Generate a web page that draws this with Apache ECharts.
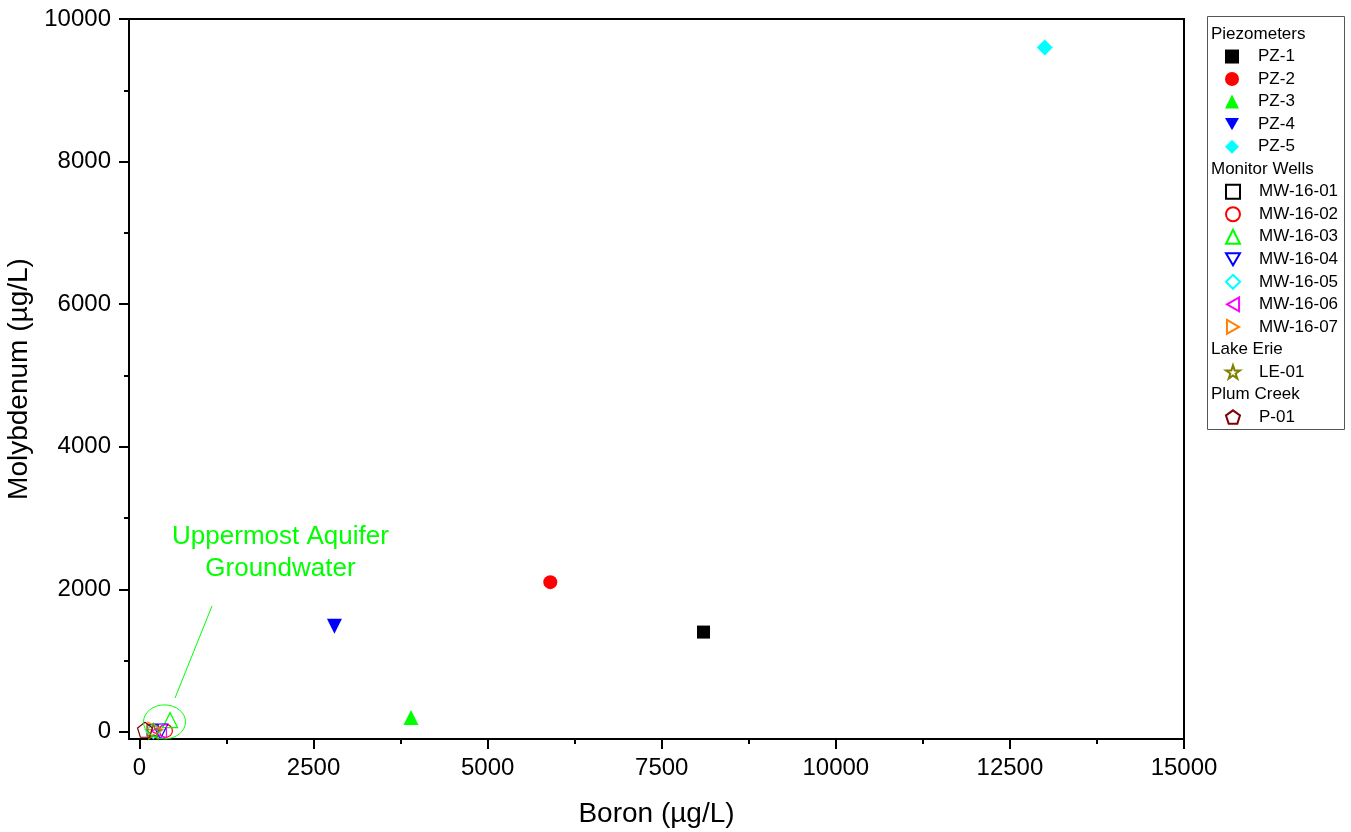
<!DOCTYPE html>
<html>
<head>
<meta charset="utf-8">
<script src="https://cdn.jsdelivr.net/npm/echarts@6/dist/echarts.min.js"></script>
<style>html,body{margin:0;padding:0;background:#fff}#c{width:1351px;height:832px}</style>
</head>
<body>
<div id="c"></div>
<script>
// ---- data ----
const xTicks = [0, 2500, 5000, 7500, 10000, 12500, 15000];
const xMinorTicks = [1250, 3750, 6250, 8750, 11250, 13750];
const yTicks = [0, 2000, 4000, 6000, 8000, 10000];
const yMinorTicks = [1000, 3000, 5000, 7000, 9000];

const piezoNames = ['PZ-1', 'PZ-2', 'PZ-3', 'PZ-4', 'PZ-5'];
const piezoBoron = [8100, 5900, 3900, 2800, 13000];
const piezoMoly = [1400, 2100, 200, 1480, 9600];

const wellNames = ['MW-16-01', 'MW-16-02', 'MW-16-03', 'MW-16-04', 'MW-16-05', 'MW-16-06', 'MW-16-07'];
const wellBoron = [190, 380, 440, 300, 200, 280, 230];
const wellMoly = [20, 15, 165, 5, 10, 10, 30];

const lakeNames = ['LE-01'];
const lakeBoron = [200];
const lakeMoly = [5];

const creekNames = ['P-01'];
const creekBoron = [80];
const creekMoly = [30];

const groupHeaders = ['Piezometers', 'Monitor Wells', 'Lake Erie', 'Plum Creek'];
const annotationText = 'Uppermost Aquifer\nGroundwater';

// ---- styles ----
const FONT = '"Liberation Sans", Arial, sans-serif';
const SYM = {
  down: 'path://M0,0 L2,0 L1,1.732 Z',
  left: 'path://M0,1 L1.732,0 L1.732,2 Z',
  right: 'path://M0,0 L1.732,1 L0,2 Z',
  star: 'path://M1,0 L1.225,0.691 L1.951,0.691 L1.363,1.118 L1.588,1.809 L1,1.382 L0.412,1.809 L0.637,1.118 L0.049,0.691 L0.775,0.691 Z',
  pent: 'path://M1,0 L1.951,0.691 L1.588,1.809 L0.412,1.809 L0.049,0.691 Z'
};
const piezoStyle = [
  {symbol: 'rect', color: '#000000', size: 13},
  {symbol: 'circle', color: '#ff0000', size: 14},
  {symbol: 'triangle', color: '#00ff00', size: 15},
  {symbol: SYM.down, color: '#0000ff', size: 15},
  {symbol: 'diamond', color: '#00ffff', size: 16}
];
const wellStyle = [
  {symbol: 'rect', color: '#000000', size: 11},
  {symbol: 'circle', color: '#ff0000', size: 13},
  {symbol: 'triangle', color: '#00ff00', size: 15},
  {symbol: SYM.down, color: '#0000ff', size: 15},
  {symbol: 'diamond', color: '#00ffff', size: 15},
  {symbol: SYM.left, color: '#ff00ff', size: 15},
  {symbol: SYM.right, color: '#ff8000', size: 15}
];
const lakeStyle = [{symbol: SYM.star, color: '#808000', size: 15}];
const creekStyle = [{symbol: SYM.pent, color: '#800000', size: 15}];

function makeSeries(names, xs, ys, styles, filled) {
  return names.map((n, i) => ({
    name: n,
    type: 'scatter',
    xAxisIndex: 0, yAxisIndex: 0,
    symbol: styles[i].symbol,
    symbolSize: styles[i].size,
    itemStyle: filled
      ? {color: styles[i].color, borderWidth: 0, opacity: 1}
      : {color: 'rgba(255,255,255,0)', borderColor: styles[i].color, borderWidth: 1.2, opacity: 1},
    emphasis: {disabled: true},
    data: [[xs[i], ys[i]]]
  }));
}

const series = [].concat(
  makeSeries(piezoNames, piezoBoron, piezoMoly, piezoStyle, true),
  makeSeries(wellNames, wellBoron, wellMoly, wellStyle, false),
  makeSeries(lakeNames, lakeBoron, lakeMoly, lakeStyle, false),
  makeSeries(creekNames, creekBoron, creekMoly, creekStyle, false)
);

const ROW = 22.53, ROW0 = 34;
function legendAt(names, firstRow) {
  return {
    data: names,
    orient: 'vertical',
    left: 1225,
    top: ROW0 + ROW * firstRow - ROW / 2,
    padding: 0,
    itemGap: 0,
    itemWidth: 14,
    itemHeight: 14,
    selectedMode: false,
    textStyle: {fontFamily: FONT, fontSize: 17, color: '#000', lineHeight: ROW, padding: [0, 0, 0, 14]}
  };
}
const plain = v => String(v);

const X_RANGE = {min: -150, max: 15000};
const Y_RANGE = {min: -100, max: 10000};
function tickAxis(range, pos, values, len) {
  return {
    type: 'value', position: pos, offset: 0, min: range.min, max: range.max,
    axisLine: {show: false, onZero: false},
    axisTick: {show: true, inside: false, length: len, customValues: values.slice(), lineStyle: {color: '#000', width: 2}},
    axisLabel: {show: false},
    splitLine: {show: false}
  };
}

const chart = echarts.init(document.getElementById('c'), null, {renderer: 'canvas'});
const option = {
  backgroundColor: '#ffffff',
  animation: false,
  textStyle: {fontFamily: FONT},
  grid: {left: 129, top: 19, right: 167, bottom: 93, show: true, borderColor: '#000', borderWidth: 2,
         containLabel: false, outerBoundsMode: 'none'},
  xAxis: [
    {
      type: 'value', position: 'bottom', offset: 0, min: X_RANGE.min, max: X_RANGE.max,
      name: 'Boron (µg/L)', nameLocation: 'middle', nameGap: 61,
      nameTextStyle: {fontFamily: FONT, fontSize: 28, color: '#000'},
      axisLine: {show: true, onZero: false, lineStyle: {color: '#000', width: 2}},
      axisTick: {show: false},
      axisLabel: {customValues: xTicks.slice(), formatter: plain, fontFamily: FONT, fontSize: 24, color: '#000', margin: 17},
      splitLine: {show: false}
    },
    tickAxis(X_RANGE, 'bottom', xTicks, 10),
    tickAxis(X_RANGE, 'bottom', xTicks.concat(xMinorTicks), 5)
  ],
  yAxis: [
    {
      type: 'value', position: 'left', offset: 0, min: Y_RANGE.min, max: Y_RANGE.max,
      name: 'Molybdenum (µg/L)', nameLocation: 'middle', nameGap: 86,
      nameTextStyle: {fontFamily: FONT, fontSize: 28, color: '#000'},
      axisLine: {show: true, onZero: false, lineStyle: {color: '#000', width: 2}},
      axisTick: {show: false},
      axisLabel: {customValues: yTicks.slice(), formatter: plain, fontFamily: FONT, fontSize: 24, color: '#000', margin: 18},
      splitLine: {show: false}
    },
    tickAxis(Y_RANGE, 'left', yTicks, 10),
    tickAxis(Y_RANGE, 'left', yTicks.concat(yMinorTicks), 5)
  ],
  legend: [
    legendAt(piezoNames, 1),
    legendAt(wellNames, 7),
    legendAt(lakeNames, 15),
    legendAt(creekNames, 17)
  ],
  series: series
};
chart.setOption(option);

// ---- annotation & legend frame (layout graphics) ----
const ellipseCenter = [360, 140];
const lineFrom = [1042, 1766];
const lineTo = [511, 475];
const textCenter = [2025, 2510];
const px = p => chart.convertToPixel({xAxisIndex: 0, yAxisIndex: 0}, p);
const ec = px(ellipseCenter), lf = px(lineFrom), lt = px(lineTo), tc = px(textCenter);
const headerRows = [0, 6, 14, 16];

chart.setOption({
  graphic: [
    {type: 'rect', shape: {x: 1207.5, y: 16.5, width: 137, height: 413}, style: {fill: 'none', stroke: '#555', lineWidth: 1}, silent: true},
    ...groupHeaders.map((h, i) => ({
      type: 'text', x: 1211, y: ROW0 + ROW * headerRows[i], silent: true,
      style: {text: h, fontFamily: FONT, fontSize: 17, fill: '#000', align: 'left', verticalAlign: 'middle'}
    })),
    {type: 'ellipse', shape: {cx: ec[0], cy: ec[1], rx: 21, ry: 17}, style: {fill: 'none', stroke: '#00ff00', lineWidth: 1}, silent: true, z: 100},
    {type: 'line', shape: {x1: lf[0], y1: lf[1], x2: lt[0], y2: lt[1]}, style: {stroke: '#00ff00', lineWidth: 1}, silent: true, z: 100},
    {type: 'text', x: tc[0], y: tc[1], silent: true, z: 100,
     style: {text: annotationText, fontFamily: FONT, fontSize: 26, lineHeight: 32, fill: '#00ff00', align: 'center', verticalAlign: 'middle'}}
  ]
});
</script>
</body>
</html>
